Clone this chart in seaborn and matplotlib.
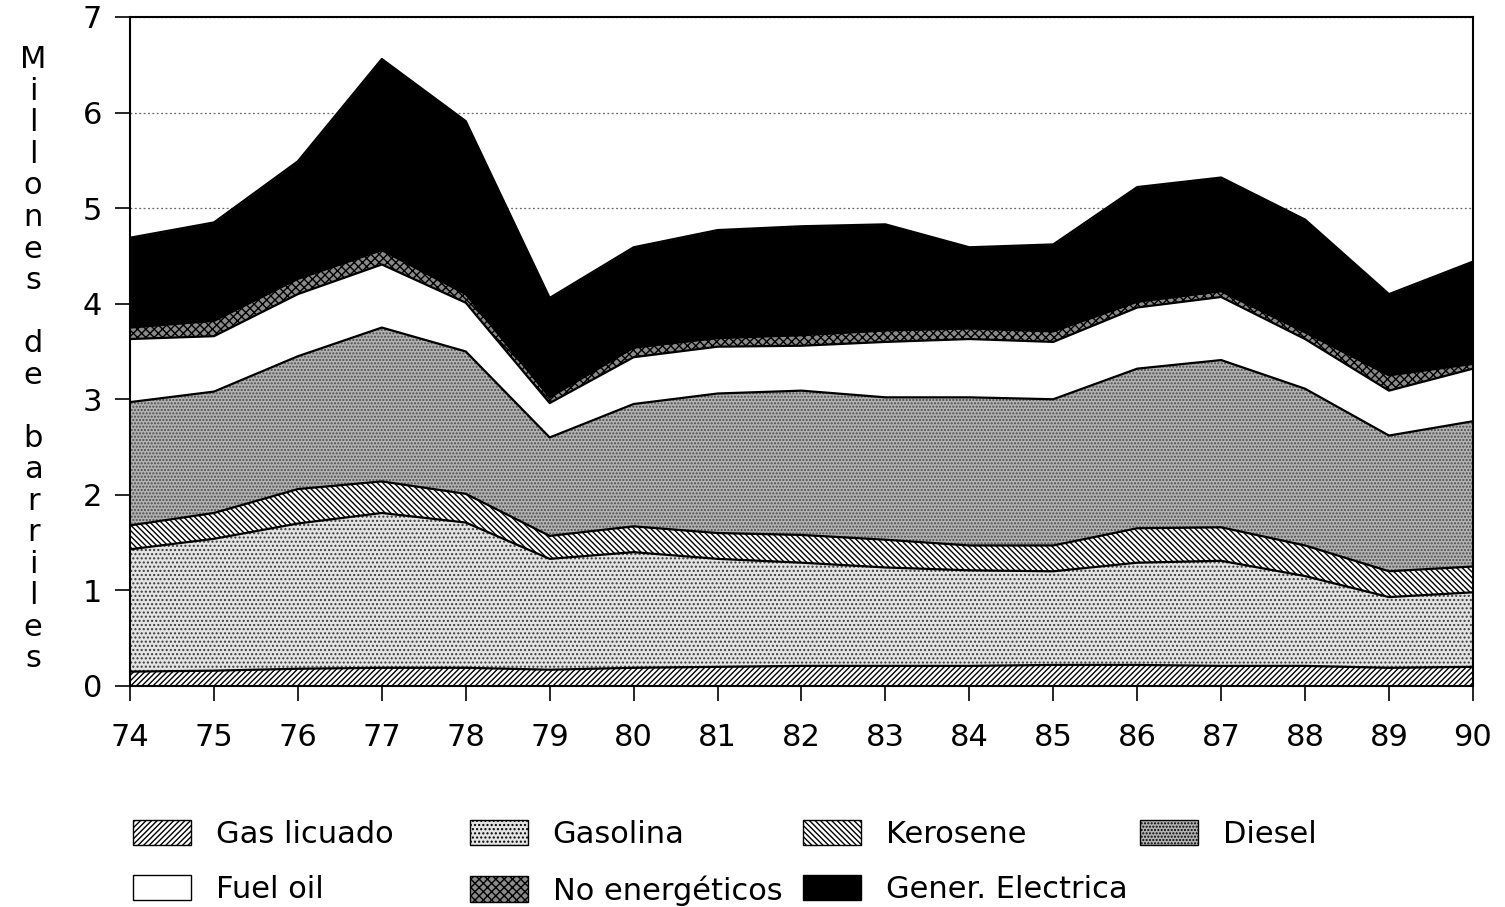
import numpy as np
import matplotlib
matplotlib.use("Agg")
import matplotlib.pyplot as plt
from matplotlib.patches import Patch
import seaborn as sns

# ---- data (millones de barriles) ----
years = [74, 75, 76, 77, 78, 79, 80, 81, 82, 83, 84, 85, 86, 87, 88, 89, 90]
year_labels = [str(y) for y in years]
gas_licuado = [0.15, 0.16, 0.18, 0.19, 0.19, 0.17, 0.19, 0.20, 0.21, 0.21, 0.21, 0.22, 0.22, 0.21, 0.21, 0.19, 0.20]
gasolina    = [1.28, 1.38, 1.52, 1.62, 1.52, 1.16, 1.21, 1.13, 1.08, 1.03, 1.00, 0.98, 1.07, 1.10, 0.94, 0.74, 0.78]
kerosene    = [0.25, 0.27, 0.36, 0.33, 0.30, 0.24, 0.27, 0.27, 0.29, 0.29, 0.26, 0.27, 0.36, 0.35, 0.32, 0.27, 0.27]
diesel      = [1.29, 1.27, 1.39, 1.61, 1.49, 1.03, 1.28, 1.46, 1.51, 1.49, 1.55, 1.53, 1.67, 1.75, 1.64, 1.42, 1.52]
fuel_oil    = [0.66, 0.58, 0.65, 0.66, 0.51, 0.36, 0.49, 0.49, 0.47, 0.58, 0.61, 0.60, 0.64, 0.66, 0.52, 0.47, 0.55]
no_energ    = [0.12, 0.16, 0.16, 0.15, 0.09, 0.06, 0.10, 0.09, 0.11, 0.12, 0.11, 0.11, 0.06, 0.06, 0.07, 0.16, 0.05]
gener_elec  = [0.94, 1.03, 1.23, 2.00, 1.81, 1.04, 1.05, 1.13, 1.14, 1.11, 0.85, 0.91, 1.20, 1.19, 1.18, 0.85, 1.07]

series_names = ["Gas licuado", "Gasolina", "Kerosene", "Diesel",
                "Fuel oil", "No energéticos", "Gener. Electrica"]
y_ticks = [0, 1, 2, 3, 4, 5, 6, 7]

series = [gas_licuado, gasolina, kerosene, diesel, fuel_oil, no_energ, gener_elec]
# fill styles: (facecolor, hatch, hatch colour)
styles = [
    ("white",   "//////",  "black"),
    ("#e4e4e4", "....",  "#3a3a3a"),
    ("white",   "\\\\\\\\\\\\", "black"),
    ("#b2b2b2", ".....", "#4a4a4a"),
    ("white",   None,    "white"),
    ("#8a8a8a", "xxxx",  "black"),
    ("black",   None,    "black"),
]

sns.set_theme(style="white")
plt.rcParams["font.family"] = ["DejaVu Sans"]
plt.rcParams["text.color"] = "black"
plt.rcParams["hatch.linewidth"] = 1.0

fig = plt.figure(figsize=(15.05, 9.07), dpi=100)
ax = fig.add_axes([0.0864, 0.2437, 0.8923, 0.7376])

x = np.array(years, dtype=float)
data = np.array(series, dtype=float)
cum = np.cumsum(data, axis=0)
lower = np.zeros_like(x)

ax.set_axisbelow(True)
ax.yaxis.grid(True, linestyle=(0, (1.5, 2)), color="#666666", linewidth=0.9)
ax.xaxis.grid(False)

for i, (fc, hatch, hc) in enumerate(styles):
    ax.fill_between(x, lower, cum[i], facecolor=fc, hatch=hatch,
                    edgecolor=hc, linewidth=0, zorder=2)
    lower = cum[i]

for i in range(len(series)):
    sns.lineplot(x=x, y=cum[i], color="black", linewidth=1.6, ax=ax,
                 zorder=3, legend=False)

ax.set_xlim(74, 90)
ax.set_ylim(0, 7)
ax.set_xticks(years)
ax.set_xticklabels(year_labels)
ax.set_yticks(y_ticks)
ax.set_yticklabels([str(t) for t in y_ticks])
ax.tick_params(axis="both", labelsize=22, colors="black", direction="out",
               length=11, width=1.2)
ax.tick_params(axis="x", pad=16)
ax.tick_params(axis="y", pad=9)
ax.xaxis.set_ticks_position("bottom")
ax.yaxis.set_ticks_position("left")
for s in ax.spines.values():
    s.set_color("black")
    s.set_linewidth(1.5)
    s.set_zorder(5)
ax.set_xlabel("")
ax.set_ylabel("")

# vertical stacked y label
fig.text(0.022, 0.950, "\n".join("Millones de barriles"), ha="center", va="top",
         multialignment="center", fontsize=22, linespacing=1.11, color="black")

# legend in four columns
handles = []
for (fc, hatch, hc), name in zip(styles, series_names):
    handles.append(Patch(facecolor=fc, hatch=hatch, edgecolor="black",
                         linewidth=1.0, label=name))
cols = [[0, 4], [1, 5], [2, 6], [3]]
col_x = [0.0884, 0.3123, 0.5336, 0.7575]
for cx, idx in zip(col_x, cols):
    leg = fig.legend([handles[k] for k in idx], [series_names[k] for k in idx],
                     loc="upper left", bbox_to_anchor=(cx, 0.096), frameon=False,
                     fontsize=22, handlelength=1.9, handleheight=0.9,
                     handletextpad=0.8, labelspacing=0.85, borderpad=0,
                     borderaxespad=0)
    for t in leg.get_texts():
        t.set_color("black")

fig.savefig("out.png", dpi=100)
